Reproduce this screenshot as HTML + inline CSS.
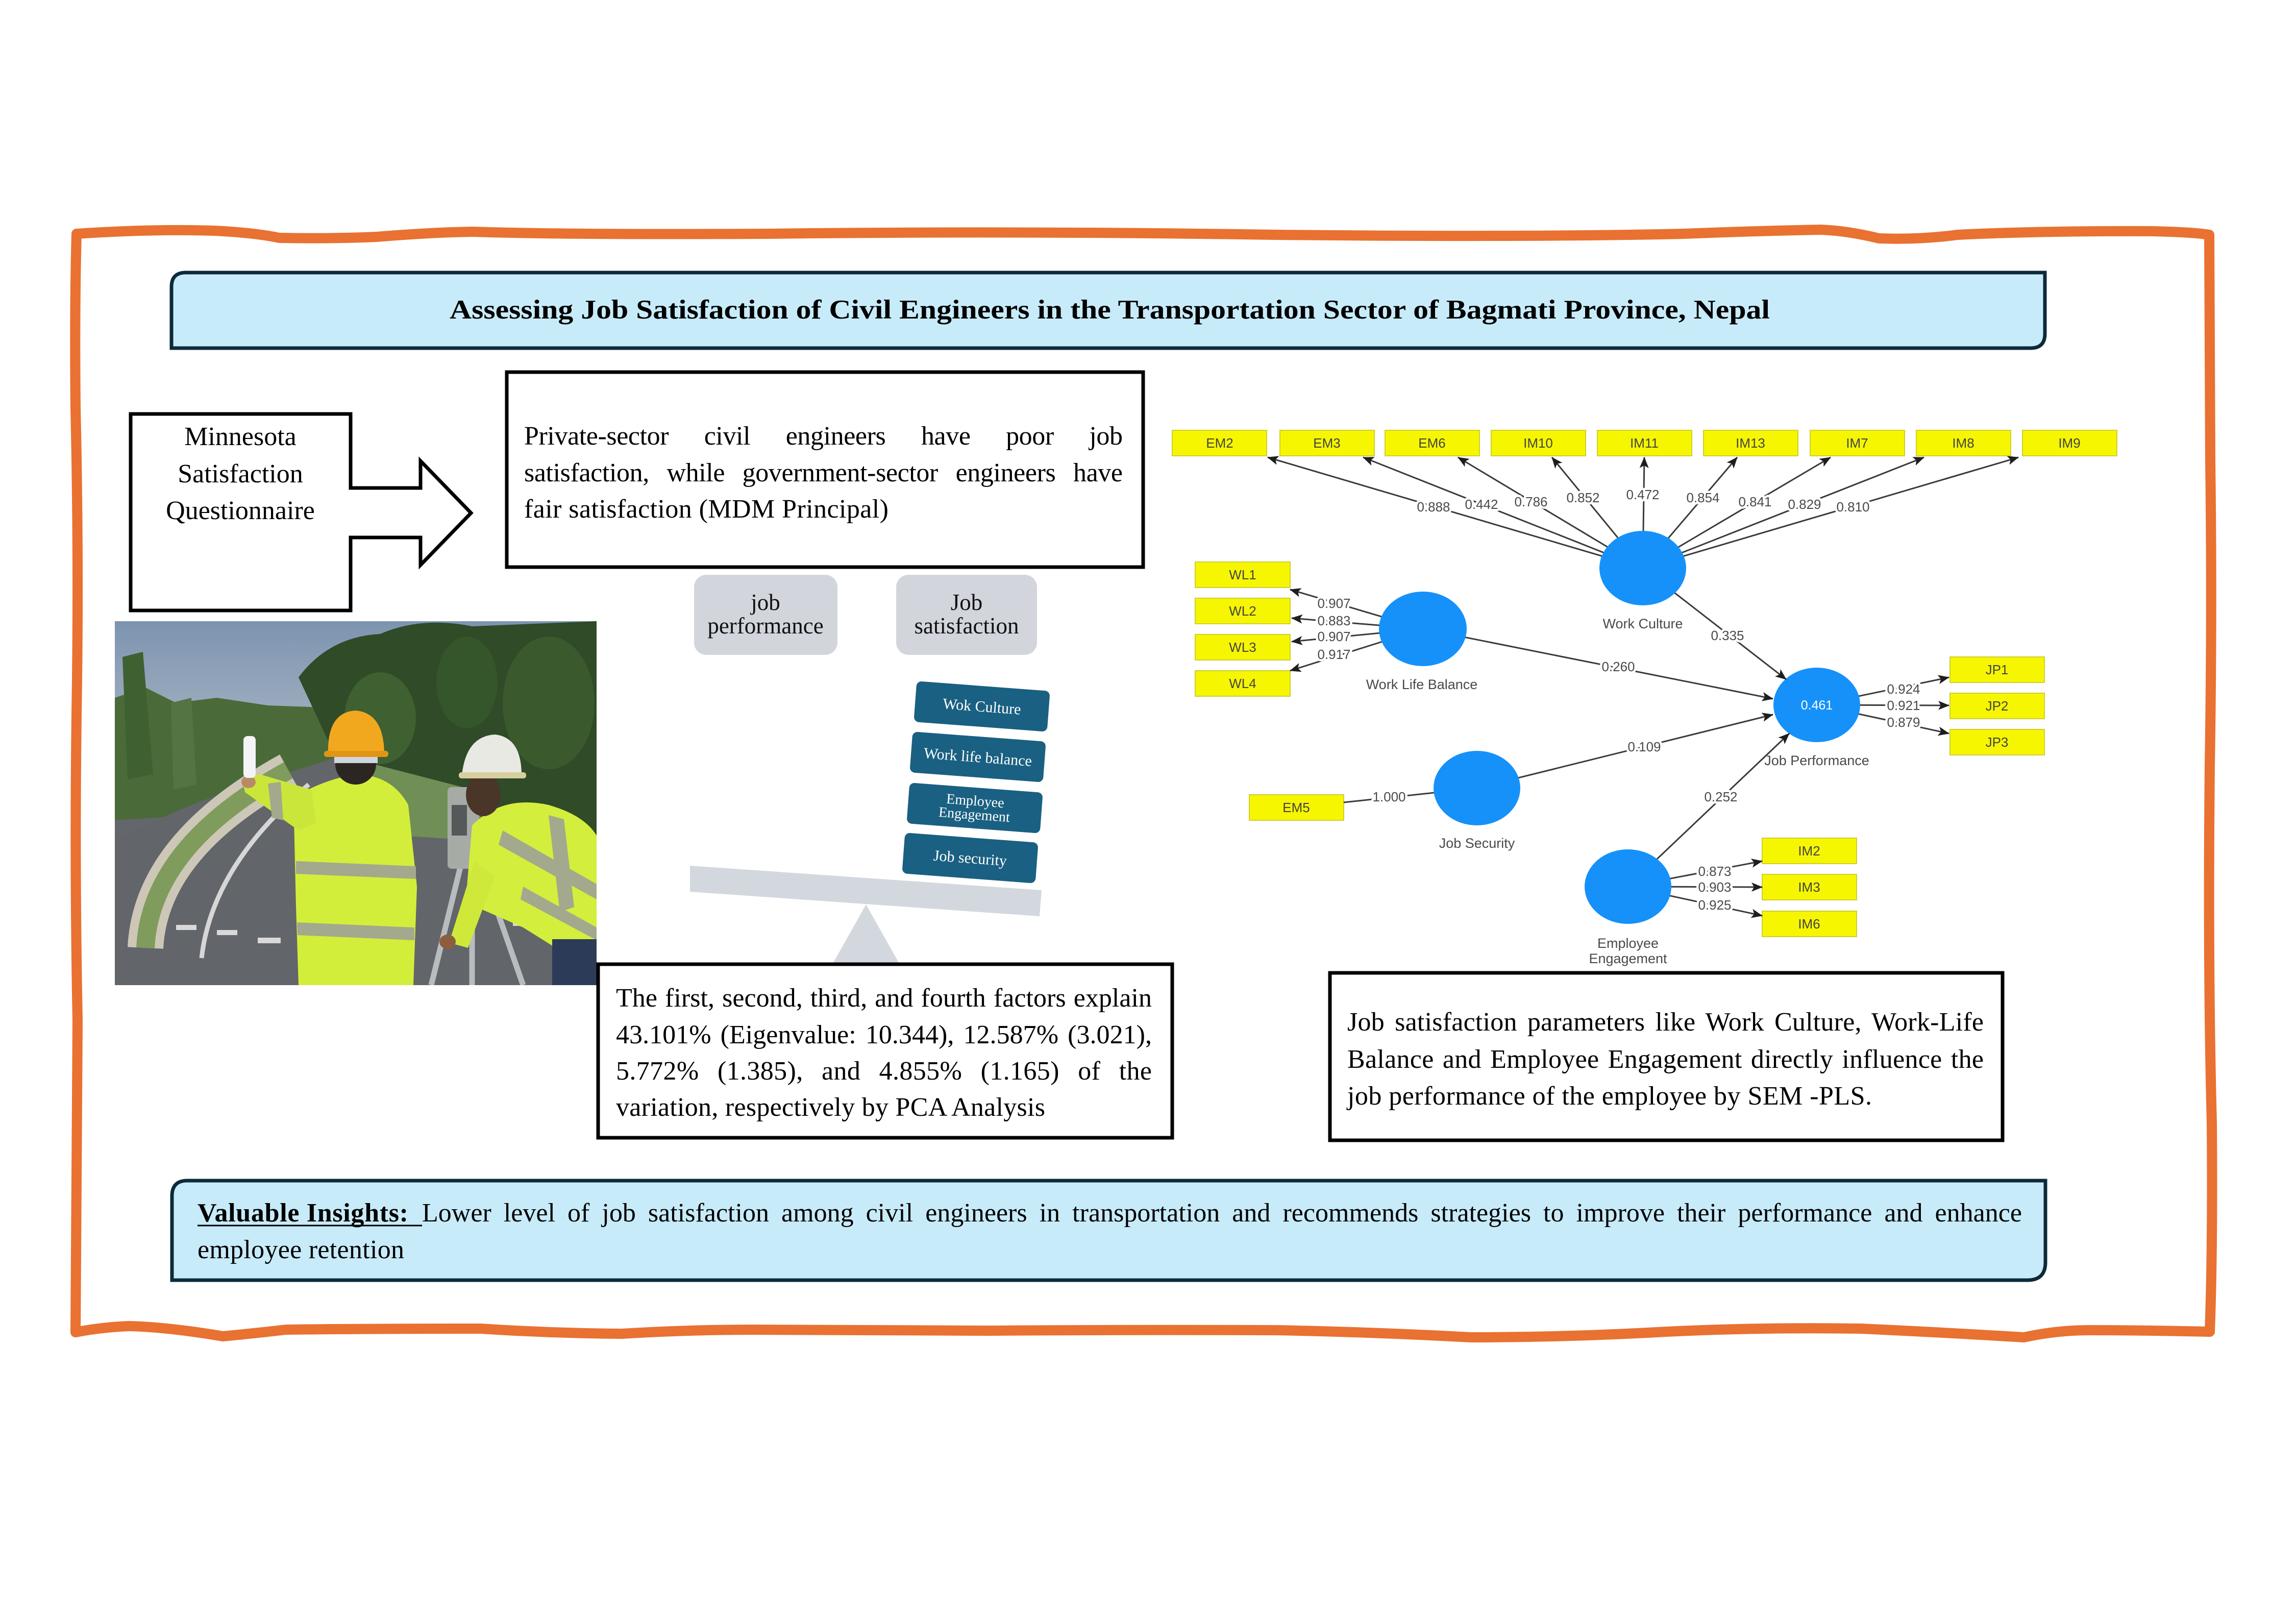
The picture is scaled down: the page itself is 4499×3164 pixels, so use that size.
<!DOCTYPE html>
<html><head><meta charset="utf-8">
<style>
html,body{margin:0;padding:0;background:#fff;}
svg{display:block;}
.serif{font-family:"Liberation Serif","Times New Roman",serif;}
.sans{font-family:"Liberation Sans",Arial,sans-serif;}
</style></head><body>
<svg width="4499" height="3164" viewBox="0 0 4499 3164" xmlns="http://www.w3.org/2000/svg">
<defs>
<marker id="ah" markerUnits="userSpaceOnUse" markerWidth="22" markerHeight="18" refX="21" refY="9" orient="auto"><path d="M0,0 L22,9 L0,18 L5,9 z" fill="#1e1e1e"/></marker>
<linearGradient id="sky" x1="0" y1="0" x2="0" y2="1"><stop offset="0" stop-color="#7d94b0"/><stop offset="1" stop-color="#aab7c4"/></linearGradient>
</defs>
<rect width="4499" height="3164" fill="#fff"/>

<!-- orange hand-drawn frame -->
<path d="M150,458 Q300,448 420,452 Q500,456 547,466 Q650,468 738,464 Q850,455 929,454 Q1100,460 1500,458 Q2000,452 2500,460 Q3000,465 3300,458 Q3450,452 3568,450 Q3620,452 3682,467 Q3760,470 3836,460 Q4000,452 4218,453 Q4300,455 4329,460 L4331,900 Q4335,1200 4330,1500 Q4326,1900 4334,2200 Q4336,2450 4330,2609 Q4200,2606 4094,2606 Q4030,2606 3966,2620 Q3800,2610 3647,2603 Q3450,2600 3265,2609 Q3070,2620 2882,2620 Q2700,2610 2500,2606 Q2200,2605 1937,2607 Q1700,2605 1478,2605 Q1350,2605 1218,2613 Q1080,2612 942,2603 Q700,2603 560,2605 Q500,2612 437,2618 Q330,2600 253,2598 Q200,2600 148,2610 Q150,2300 152,2000 Q146,1700 150,1400 Q155,1100 148,800 Q146,600 150,458 Z" fill="none" stroke="#e97132" stroke-width="20" stroke-linejoin="round"/>

<!-- title box -->
<path d="M364,534 L4007,534 L4007,654 Q4007,682 3979,682 L336,682 L336,562 Q336,534 364,534 Z" fill="#c8ebfa" stroke="#0d2a3a" stroke-width="7"/>
<text class="serif" x="881" y="624" font-size="53" font-weight="bold" fill="#000" textLength="2587" lengthAdjust="spacingAndGlyphs">Assessing Job Satisfaction of Civil Engineers in the Transportation Sector of Bagmati Province, Nepal</text>

<!-- Minnesota box with arrow -->
<polygon points="256,811 687,811 687,956 824,956 824,903 923,1005 824,1107 824,1053 687,1053 687,1196 256,1196" fill="#fff" stroke="#000" stroke-width="7" stroke-linejoin="miter"/>
<g class="serif" font-size="52" fill="#000" text-anchor="middle">
<text x="471" y="872">Minnesota</text>
<text x="471" y="945">Satisfaction</text>
<text x="471" y="1017">Questionnaire</text>
</g>

<!-- Private box -->
<rect x="993" y="729" width="1247" height="382" fill="#fff" stroke="#000" stroke-width="7"/>
<g class="serif" font-size="52" fill="#000">
<text x="1027" y="871" word-spacing="57" textLength="1173" lengthAdjust="spacing">Private-sector civil engineers have poor job</text>
<text x="1027" y="943" word-spacing="22" textLength="1173" lengthAdjust="spacing">satisfaction, while government-sector engineers have</text>
<text x="1027" y="1014" textLength="714" lengthAdjust="spacing">fair satisfaction (MDM Principal)</text>
</g>

<!-- photo -->
<svg x="225" y="1217" width="944" height="713" viewBox="0 0 944 713">
<rect width="944" height="713" fill="#63666b"/>
<rect width="944" height="270" fill="url(#sky)"/>
<path d="M0,150 L60,130 L120,160 L200,150 L300,165 L440,170 L470,360 L0,390 Z" fill="#4a6b39"/>
<path d="M15,70 L55,60 L75,300 L25,310 Z" fill="#3f6030"/>
<path d="M110,160 L150,150 L160,320 L115,330 Z" fill="#557444"/>
<path d="M360,110 Q420,30 520,25 Q600,-10 700,10 L944,0 L944,450 L820,440 L700,380 L560,330 L430,260 Z" fill="#2f4b27"/>
<ellipse cx="520" cy="190" rx="70" ry="90" fill="#3f6031"/>
<ellipse cx="850" cy="160" rx="90" ry="130" fill="#3a5a2e"/>
<ellipse cx="690" cy="120" rx="60" ry="90" fill="#35552b"/>
<path d="M430,260 L700,330 L740,450 L600,455 L480,330 Z" fill="#6f8f56"/>
<path d="M0,430 Q150,350 330,300 L430,268 L560,420 L944,445 L944,713 L0,713 Z" fill="#62656a"/>
<path d="M60,640 Q70,440 340,292" stroke="#cdc7b8" stroke-width="70" fill="none"/>
<path d="M60,640 Q70,440 340,292" stroke="#7f9c5c" stroke-width="36" fill="none"/>
<path d="M170,660 Q190,480 380,320" stroke="#d6d6d6" stroke-width="9" fill="none"/>
<g fill="#d9d9d9"><rect x="120" y="595" width="40" height="10"/><rect x="200" y="605" width="40" height="10"/><rect x="280" y="620" width="45" height="11"/><rect x="370" y="640" width="50" height="12"/><rect x="780" y="585" width="50" height="12"/></g>
<!-- worker 1 -->
<rect x="370" y="690" width="200" height="23" fill="#2a2d33"/>
<path d="M350,345 Q420,305 480,300 Q545,305 575,360 L592,520 L585,713 L360,713 L355,560 Z" fill="#d3ee3a"/>
<path d="M250,310 L285,300 L385,330 L395,395 L360,410 L255,335 Z" fill="#cbe63a"/>
<path d="M355,470 L590,480 L590,505 L355,495 Z" fill="#a3a98c"/>
<path d="M357,590 L587,600 L587,625 L358,615 Z" fill="#a3a98c"/>
<path d="M300,318 L325,315 L330,390 L308,385 Z" fill="#a3a98c"/>
<ellipse cx="262" cy="315" rx="14" ry="12" fill="#b98a66"/>
<rect x="252" y="225" width="24" height="82" rx="8" fill="#f4f4f6"/>
<ellipse cx="472" cy="280" rx="40" ry="40" fill="#2b2622"/>
<rect x="430" y="258" width="85" height="20" fill="#cfd6df"/>
<path d="M418,262 Q415,178 472,175 Q528,180 528,262 Z" fill="#f2a81e"/>
<rect x="410" y="254" width="126" height="12" rx="5" fill="#e09515"/>
<!-- tripod -->
<g stroke="#b8bcbf" stroke-width="11"><line x1="680" y1="470" x2="620" y2="713"/><line x1="700" y1="470" x2="700" y2="713"/><line x1="715" y1="470" x2="800" y2="713"/></g>
<rect x="652" y="325" width="62" height="160" rx="8" fill="#a7aba6"/>
<rect x="660" y="360" width="30" height="60" fill="#55595a"/>
<!-- worker 2 -->
<path d="M700,400 Q760,340 850,360 Q920,380 944,420 L944,640 L880,650 L800,600 L720,565 L690,520 Z" fill="#d3ee3c"/>
<path d="M705,470 L745,500 L692,640 L655,630 Z" fill="#cfe83a"/>
<ellipse cx="652" cy="628" rx="16" ry="14" fill="#8c5e3e"/>
<path d="M760,410 L944,515 L944,545 L752,438 Z" fill="#a3a98c"/>
<path d="M800,520 L944,600 L944,625 L795,545 Z" fill="#a3a98c"/>
<path d="M850,380 L880,388 L900,560 L872,570 Z" fill="#a3a98c"/>
<ellipse cx="722" cy="340" rx="34" ry="42" fill="#4a3628"/>
<path d="M680,302 Q688,225 745,222 Q797,228 797,302 Z" fill="#e9e9e4"/>
<rect x="674" y="296" width="132" height="12" rx="5" fill="#d8cfa0"/>
<rect x="857" y="623" width="87" height="90" fill="#2c3b57"/>
</svg>

<!-- job performance / satisfaction labels -->
<rect x="1360" y="1126" width="281" height="157" rx="24" fill="#d2d6dc"/>
<rect x="1756" y="1126" width="276" height="157" rx="24" fill="#d2d6dc"/>
<g class="serif" font-size="45" fill="#111" text-anchor="middle">
<text x="1500" y="1195">job</text>
<text x="1500" y="1241">performance</text>
<text x="1894" y="1195">Job</text>
<text x="1894" y="1241">satisfaction</text>
</g>

<!-- seesaw -->
<polygon points="1352,1696 2041,1744 2037,1795 1352,1747" fill="#d3d8de"/>
<polygon points="1697,1772 1625,1900 1769,1900" fill="#d3d8de"/>

<!-- teal blocks -->
<g class="serif" fill="#fff" text-anchor="middle">
<g transform="translate(1924,1384) rotate(4.3)"><rect x="-131" y="-40" width="262" height="80" rx="10" fill="#1a6082"/><text x="0" y="10" font-size="30">Wok Culture</text></g>
<g transform="translate(1916,1483) rotate(4.3)"><rect x="-131" y="-40" width="262" height="80" rx="10" fill="#1a6082"/><text x="0" y="10" font-size="30">Work life balance</text></g>
<g transform="translate(1910,1583) rotate(4.3)"><rect x="-131" y="-40" width="262" height="80" rx="10" fill="#1a6082"/><text x="0" y="-5" font-size="28">Employee</text><text x="0" y="22" font-size="28">Engagement</text></g>
<g transform="translate(1901,1681) rotate(4.3)"><rect x="-131" y="-40" width="262" height="80" rx="10" fill="#1a6082"/><text x="0" y="10" font-size="30">Job security</text></g>
</g>

<!-- PCA box -->
<rect x="1172" y="1889" width="1125" height="340" fill="#fff" stroke="#000" stroke-width="7"/>
<g class="serif" font-size="52" fill="#000">
<text x="1207" y="1972" word-spacing="2" textLength="1050" lengthAdjust="spacing">The first, second, third, and fourth factors explain</text>
<text x="1207" y="2044" word-spacing="5" textLength="1050" lengthAdjust="spacing">43.101% (Eigenvalue: 10.344), 12.587% (3.021),</text>
<text x="1207" y="2115" word-spacing="23" textLength="1050" lengthAdjust="spacing">5.772% (1.385), and 4.855% (1.165) of the</text>
<text x="1207" y="2186" textLength="841" lengthAdjust="spacing">variation, respectively by PCA Analysis</text>
</g>

<!-- SEM text box -->
<rect x="2606" y="1906" width="1318" height="328" fill="#fff" stroke="#000" stroke-width="7"/>
<g class="serif" font-size="52" fill="#000">
<text x="2640" y="2019" word-spacing="7" textLength="1247" lengthAdjust="spacing">Job satisfaction parameters like Work Culture, Work-Life</text>
<text x="2640" y="2092" word-spacing="4" textLength="1247" lengthAdjust="spacing">Balance and Employee Engagement directly influence the</text>
<text x="2640" y="2164" textLength="1028" lengthAdjust="spacing">job performance of the employee by SEM -PLS.</text>
</g>

<!-- Insights box -->
<path d="M367,2313 L4008,2313 L4008,2473 Q4008,2508 3973,2508 L337,2508 L337,2343 Q337,2313 367,2313 Z" fill="#c8ebfa" stroke="#0d2a3a" stroke-width="7"/>
<g class="serif" font-size="52" fill="#000">
<text x="387" y="2393" font-weight="bold" textLength="413" lengthAdjust="spacing">Valuable Insights:</text>
<text x="827" y="2393" word-spacing="11" textLength="3135" lengthAdjust="spacing">Lower level of job satisfaction among civil engineers in transportation and recommends strategies to improve their performance and enhance</text>
<text x="387" y="2465" textLength="405" lengthAdjust="spacing">employee retention</text>
</g>
<line x1="387" y1="2401" x2="827" y2="2401" stroke="#000" stroke-width="3"/>

<!-- ===== SEM diagram ===== -->
<g fill="#f6f600" stroke="#cfcf30" stroke-width="2">
<rect x="2297" y="843" width="185" height="50"/><rect x="2508" y="843" width="185" height="50"/><rect x="2714" y="843" width="185" height="50"/>
<rect x="2922" y="843" width="185" height="50"/><rect x="3130" y="843" width="185" height="50"/><rect x="3338" y="843" width="185" height="50"/>
<rect x="3547" y="843" width="185" height="50"/><rect x="3755" y="843" width="185" height="50"/><rect x="3963" y="843" width="185" height="50"/>
<rect x="2342" y="1101" width="186" height="50"/><rect x="2342" y="1172" width="186" height="50"/><rect x="2342" y="1243" width="186" height="50"/><rect x="2342" y="1314" width="186" height="50"/>
<rect x="3821" y="1287" width="185" height="50"/><rect x="3821" y="1358" width="185" height="50"/><rect x="3821" y="1429" width="185" height="50"/>
<rect x="2448" y="1557" width="185" height="50"/>
<rect x="3453" y="1642" width="185" height="50"/><rect x="3453" y="1713" width="185" height="50"/><rect x="3453" y="1785" width="185" height="50"/>
</g>
<g class="sans" font-size="26" fill="#444" text-anchor="middle">
<text x="2390" y="877">EM2</text><text x="2600" y="877">EM3</text><text x="2806" y="877">EM6</text>
<text x="3014" y="877">IM10</text><text x="3222" y="877">IM11</text><text x="3430" y="877">IM13</text>
<text x="3639" y="877">IM7</text><text x="3847" y="877">IM8</text><text x="4055" y="877">IM9</text>
<text x="2435" y="1135">WL1</text><text x="2435" y="1206">WL2</text><text x="2435" y="1277">WL3</text><text x="2435" y="1348">WL4</text>
<text x="3913" y="1321">JP1</text><text x="3913" y="1392">JP2</text><text x="3913" y="1463">JP3</text>
<text x="2540" y="1591">EM5</text>
<text x="3545" y="1676">IM2</text><text x="3545" y="1747">IM3</text><text x="3545" y="1819">IM6</text>
</g>

<!-- indicator lines -->
<g stroke="#3a3a3a" stroke-width="3" fill="none" marker-end="url(#ah)">
<line x1="3219" y1="1113" x2="2484" y2="896"/>
<line x1="3219" y1="1113" x2="2671" y2="896"/>
<line x1="3219" y1="1113" x2="2857" y2="896"/>
<line x1="3219" y1="1113" x2="3041" y2="896"/>
<line x1="3219" y1="1113" x2="3222" y2="896"/>
<line x1="3219" y1="1113" x2="3404" y2="896"/>
<line x1="3219" y1="1113" x2="3587" y2="896"/>
<line x1="3219" y1="1113" x2="3770" y2="896"/>
<line x1="3219" y1="1113" x2="3955" y2="896"/>
<line x1="2788" y1="1232" x2="2528" y2="1155"/>
<line x1="2788" y1="1232" x2="2531" y2="1211"/>
<line x1="2788" y1="1232" x2="2531" y2="1257"/>
<line x1="2788" y1="1232" x2="2528" y2="1314"/>
<line x1="3560" y1="1381" x2="3819" y2="1327"/>
<line x1="3560" y1="1381" x2="3819" y2="1382"/>
<line x1="3560" y1="1381" x2="3819" y2="1437"/>
<line x1="3190" y1="1737" x2="3453" y2="1687"/>
<line x1="3190" y1="1737" x2="3453" y2="1738"/>
<line x1="3190" y1="1737" x2="3453" y2="1794"/>
</g>
<line x1="2894" y1="1544" x2="2633" y2="1572" stroke="#3a3a3a" stroke-width="3"/>

<ellipse cx="3560" cy="1381" rx="85" ry="73" fill="#1691fa"/>

<!-- structural paths -->
<g stroke="#3a3a3a" stroke-width="3" fill="none" marker-end="url(#ah)">
<line x1="3219" y1="1113" x2="3500" y2="1331"/>
<line x1="2788" y1="1232" x2="3474" y2="1369"/>
<line x1="2894" y1="1544" x2="3474" y2="1400"/>
<line x1="3190" y1="1737" x2="3506" y2="1437"/>
</g>

<g fill="#1691fa">
<ellipse cx="3219" cy="1113" rx="85" ry="73"/>
<ellipse cx="2788" cy="1232" rx="86" ry="73"/>
<ellipse cx="2894" cy="1544" rx="85" ry="73"/>
<ellipse cx="3190" cy="1737" rx="85" ry="73"/>
</g>
<text class="sans" x="3560" y="1390" font-size="25" fill="#fff" text-anchor="middle">0.461</text>

<!-- edge labels -->
<g class="sans" font-size="26" fill="#4a4a4a" text-anchor="middle" stroke="#fff" stroke-width="9" paint-order="stroke" stroke-linejoin="round">
<text x="2809" y="1002">0.888</text><text x="2903" y="997">0.442</text><text x="3000" y="992">0.786</text>
<text x="3102" y="984">0.852</text><text x="3219" y="978">0.472</text><text x="3337" y="984">0.854</text>
<text x="3439" y="992">0.841</text><text x="3536" y="997">0.829</text><text x="3631" y="1002">0.810</text>
<text x="2614" y="1191">0.907</text><text x="2614" y="1225">0.883</text><text x="2614" y="1256">0.907</text><text x="2614" y="1291">0.917</text>
<text x="3730" y="1359">0.924</text><text x="3730" y="1391">0.921</text><text x="3730" y="1424">0.879</text>
<text x="3360" y="1716">0.873</text><text x="3360" y="1747">0.903</text><text x="3360" y="1782">0.925</text>
<text x="3385" y="1254">0.335</text><text x="3171" y="1315">0.260</text><text x="3222" y="1472">0.109</text>
<text x="3372" y="1570">0.252</text><text x="2722" y="1570">1.000</text>
</g>

<!-- node labels -->
<g class="sans" font-size="27" fill="#4a4a4a" text-anchor="middle">
<text x="3219" y="1231">Work Culture</text>
<text x="2786" y="1350">Work Life Balance</text>
<text x="3560" y="1499">Job Performance</text>
<text x="2894" y="1661">Job Security</text>
<text x="3190" y="1857">Employee</text>
<text x="3190" y="1887">Engagement</text>
</g>
</svg>
</body></html>
